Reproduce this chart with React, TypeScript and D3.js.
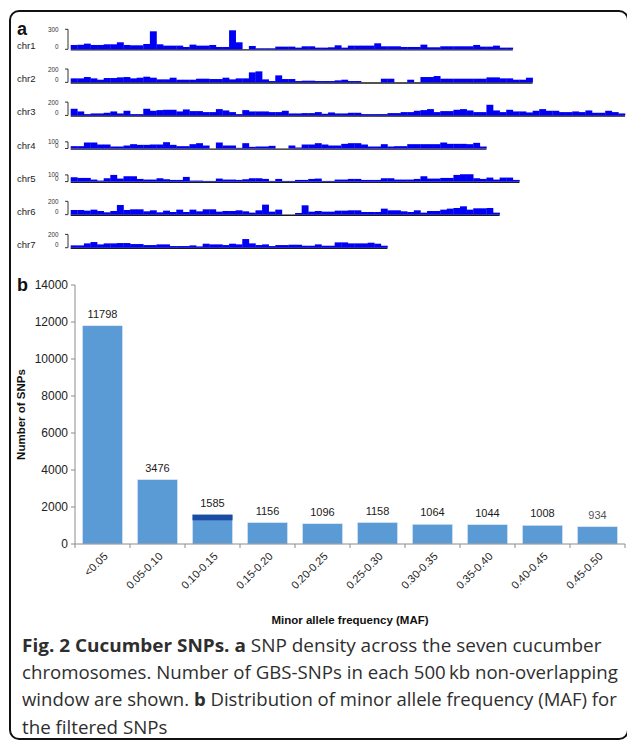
import React, { useLayoutEffect, useRef } from 'react';
import * as d3 from 'd3';

const W = 627;
const H = 740;

// ---------- Panel a: SNP counts per 500 kb window ----------
const chrNames = ['chr1', 'chr2', 'chr3', 'chr4', 'chr5', 'chr6', 'chr7'];
const chrTickMax = [300, 200, 200, 100, 100, 200, 200];

const chr1 = [65, 68, 85, 65, 65, 75, 75, 105, 65, 60, 60, 80, 270, 75, 55, 55, 55, 35, 70, 55, 55, 65, 35, 35, 285, 105, 0, 50, 15, 15, 15, 40, 40, 40, 25, 45, 45, 25, 25, 30, 60, 25, 55, 55, 55, 55, 90, 45, 45, 45, 35, 35, 35, 70, 30, 30, 45, 45, 45, 45, 45, 65, 40, 40, 55, 25, 25];
const chr2 = [60, 60, 80, 60, 40, 65, 65, 75, 80, 60, 70, 85, 70, 45, 45, 70, 40, 40, 40, 55, 55, 50, 50, 70, 45, 60, 60, 150, 165, 45, 20, 105, 50, 50, 20, 25, 25, 20, 20, 20, 30, 40, 20, 20, 0, 0, 0, 55, 55, 0, 0, 40, 0, 80, 80, 95, 55, 55, 55, 55, 55, 55, 55, 75, 75, 60, 60, 40, 40, 70];
const chr3 = [100, 60, 20, 30, 30, 40, 60, 30, 70, 20, 20, 100, 70, 80, 85, 85, 60, 90, 65, 65, 50, 50, 95, 75, 50, 20, 80, 60, 60, 60, 50, 50, 70, 30, 30, 35, 35, 50, 25, 45, 30, 30, 40, 40, 20, 20, 20, 20, 35, 35, 50, 50, 70, 80, 95, 50, 65, 65, 85, 95, 75, 50, 50, 160, 75, 50, 85, 60, 60, 45, 70, 95, 70, 70, 50, 50, 60, 50, 75, 40, 40, 70, 50, 30];
const chr4 = [35, 35, 90, 90, 60, 60, 30, 30, 45, 65, 55, 55, 60, 60, 95, 55, 35, 35, 65, 80, 45, 0, 90, 45, 45, 10, 80, 25, 30, 30, 40, 0, 0, 45, 15, 60, 60, 80, 60, 45, 45, 70, 80, 80, 60, 30, 30, 65, 30, 35, 35, 65, 65, 65, 65, 65, 90, 70, 70, 70, 65, 85, 30];
const chr5 = [65, 55, 55, 30, 15, 50, 100, 45, 80, 80, 40, 30, 30, 50, 35, 25, 25, 70, 15, 15, 10, 10, 45, 30, 30, 25, 35, 50, 50, 40, 10, 40, 10, 10, 25, 25, 40, 45, 10, 10, 30, 30, 40, 40, 25, 25, 25, 50, 50, 30, 30, 30, 40, 80, 45, 45, 55, 55, 100, 110, 110, 50, 40, 60, 30, 60, 60, 25];
const chr6 = [70, 70, 60, 75, 55, 35, 55, 145, 70, 80, 80, 50, 65, 35, 60, 40, 75, 40, 75, 50, 80, 80, 45, 55, 55, 65, 50, 30, 65, 150, 45, 75, 0, 0, 25, 140, 45, 55, 45, 45, 60, 60, 65, 65, 40, 40, 40, 90, 65, 65, 50, 40, 65, 30, 55, 55, 75, 90, 100, 125, 75, 95, 95, 100, 30];
const chr7 = [35, 35, 65, 85, 50, 65, 65, 70, 70, 55, 55, 40, 40, 50, 50, 25, 25, 25, 35, 20, 60, 50, 50, 40, 60, 50, 130, 65, 40, 50, 25, 40, 40, 45, 45, 30, 30, 50, 30, 30, 80, 80, 65, 65, 65, 75, 60, 30];
const chrCounts = [chr1, chr2, chr3, chr4, chr5, chr6, chr7];
const windowMb = 0.5;

// ---------- Panel b: MAF distribution ----------
const mafCategories = ['<0.05', '0.05-0.10', '0.10-0.15', '0.15-0.20', '0.20-0.25', '0.25-0.30', '0.30-0.35', '0.35-0.40', '0.40-0.45', '0.45-0.50'];
const snpCounts = [11798, 3476, 1585, 1156, 1096, 1158, 1064, 1044, 1008, 934];
const darkTopCounts = [0, 0, 305, 0, 0, 0, 0, 0, 0, 0];
const yTicksB = [0, 2000, 4000, 6000, 8000, 10000, 12000, 14000];

// ---------- Caption ----------
type Seg = { t: string; b?: boolean };
const captionLines: Seg[][] = [
  [{ t: 'Fig. 2 Cucumber SNPs.', b: true }, { t: ' ' }, { t: 'a', b: true }, { t: ' SNP density across the seven cucumber' }],
  [{ t: 'chromosomes. Number of GBS-SNPs in each 500\u2009kb non-overlapping' }],
  [{ t: 'window are shown. ' }, { t: 'b', b: true }, { t: ' Distribution of minor allele frequency (MAF) for' }],
  [{ t: 'the filtered SNPs' }],
];
const captionTargets = [580, 596, 595, 0];

const SANS = 'Liberation Sans, Arial, sans-serif';
const CAP_X = 22;
const CAP_Y0 = 652;
const CAP_DY = 27.2;

export default function App() {
  const capRefs = useRef<(SVGTextElement | null)[]>([]);

  useLayoutEffect(() => {
    const scales: number[] = [];
    capRefs.current.forEach((el, i) => {
      if (!el || !captionTargets[i]) return;
      const len = el.getComputedTextLength();
      const s = captionTargets[i] / len;
      scales.push(s);
      el.setAttribute('transform', `translate(${CAP_X},${CAP_Y0 + i * CAP_DY}) scale(${s},1)`);
    });
    const mean = scales.length ? d3.mean(scales)! : 1;
    capRefs.current.forEach((el, i) => {
      if (!el || captionTargets[i]) return;
      el.setAttribute('transform', `translate(${CAP_X},${CAP_Y0 + i * CAP_DY}) scale(${mean},1)`);
    });
  }, []);

  // Panel a scales
  const xA = d3.scaleLinear().domain([0, 42]).range([70.7, 625]);
  const hA = d3.scaleLinear().domain([0, 300]).range([0, 20]);
  const baseY = (i: number) => 49.3 + i * 33.07;
  const binW = xA(windowMb) - xA(0);

  // Panel b scales
  const xB = d3.scaleBand<string>().domain(mafCategories).range([75, 625]).paddingInner(15 / 55).paddingOuter(7.5 / 55);
  const yB = d3.scaleLinear().domain([0, 14000]).range([544, 285]);

  return (
    <svg width={W} height={H} viewBox={`0 0 ${W} ${H}`} style={{ position: 'absolute', left: 0, top: 0, background: '#fff' }}>
      <rect x={0} y={0} width={W} height={H} fill="#fff" />
      {/* frame */}
      <rect x={10} y={11} width={618} height={728} rx={9} fill="none" stroke="#111" strokeWidth={2} />

      {/* ---------- panel a ---------- */}
      <text x={17} y={35} fontFamily={SANS} fontWeight="bold" fontSize={18} fill="#111">a</text>
      {chrCounts.map((vals, ci) => {
        const by = baseY(ci);
        const top = by - hA(chrTickMax[ci]);
        return (
          <g key={chrNames[ci]}>
            <text x={17} y={by} fontFamily={SANS} fontSize={9.5} fill="#222">{chrNames[ci]}</text>
            <text x={58.5} y={top + 2.5} textAnchor="end" fontFamily={SANS} fontSize={6.3} fill="#333">{chrTickMax[ci]}</text>
            <text x={58.5} y={by - 0.5} textAnchor="end" fontFamily={SANS} fontSize={6.3} fill="#333">0</text>
            <path d={`M65,${top}H68V${by}H65`} fill="none" stroke="#333" strokeWidth={1} />
            <line x1={xA(0)} x2={xA(vals.length * windowMb)} y1={by + 0.6} y2={by + 0.6} stroke="#1a1a1a" strokeWidth={1.4} />
            {vals.map((v, i) =>
              v > 0 ? (
                <rect key={i} x={xA(i * windowMb)} y={by - hA(v)} width={binW + 0.3} height={hA(v)} fill="#0000f5" />
              ) : null
            )}
          </g>
        );
      })}

      {/* ---------- panel b ---------- */}
      <text x={17} y={290.5} fontFamily={SANS} fontWeight="bold" fontSize={18} fill="#111">b</text>
      {/* y axis */}
      <line x1={75} x2={75} y1={yB(14000)} y2={yB(0)} stroke="#8c8c8c" strokeWidth={1} />
      {yTicksB.map((t) => (
        <g key={t}>
          <line x1={71} x2={75} y1={yB(t)} y2={yB(t)} stroke="#8c8c8c" strokeWidth={1} />
          <text x={68} y={yB(t)} dy="0.35em" textAnchor="end" fontFamily={SANS} fontSize={12} fill="#222">{t}</text>
        </g>
      ))}
      <text transform={`translate(25,${(yB(0) + yB(14000)) / 2}) rotate(-90)`} textAnchor="middle" fontFamily={SANS} fontWeight="bold" fontSize={11.5} fill="#111">Number of SNPs</text>

      {/* bars */}
      {mafCategories.map((c, i) => {
        const x = xB(c)!;
        const w = xB.bandwidth();
        const total = snpCounts[i];
        const dark = darkTopCounts[i];
        return (
          <g key={c}>
            <rect x={x} y={yB(total)} width={w} height={yB(0) - yB(total)} fill="#5b9bd5" stroke="#dbe8f5" strokeWidth={0.6} />
            {dark > 0 && <rect x={x} y={yB(total)} width={w} height={yB(total - dark) - yB(total)} fill="#1a4ca3" />}
            <text x={x + w / 2} y={yB(total) - 8} textAnchor="middle" fontFamily={SANS} fontSize={11} fill={i === 9 ? '#555' : '#1a1a1a'}>{total}</text>
          </g>
        );
      })}

      {/* x axis */}
      <line x1={75} x2={625} y1={yB(0)} y2={yB(0)} stroke="#8c8c8c" strokeWidth={1} />
      {d3.range(mafCategories.length + 1).map((k) => {
        const x = 75 + k * xB.step();
        return <line key={k} x1={x} x2={x} y1={yB(0)} y2={yB(0) + 4} stroke="#8c8c8c" strokeWidth={1} />;
      })}
      {mafCategories.map((c) => {
        const cx = xB(c)! + xB.bandwidth() / 2;
        return (
          <text key={c} transform={`translate(${cx + 6},${yB(0) + 13}) rotate(-45)`} textAnchor="end" fontFamily={SANS} fontSize={11} fill="#222">{c}</text>
        );
      })}
      <text x={350} y={624} textAnchor="middle" fontFamily={SANS} fontWeight="bold" fontSize={11.5} fill="#111">Minor allele frequency (MAF)</text>

      {/* ---------- caption ---------- */}
      {captionLines.map((segs, li) => (
        <text
          key={li}
          ref={(el) => { capRefs.current[li] = el; }}
          x={0}
          y={0}
          transform={`translate(${CAP_X},${CAP_Y0 + li * CAP_DY})`}
          fontFamily="Open Sans, Noto Sans, sans-serif"
          fontSize={18}
          fill="#2e2e2e"
          xmlSpace="preserve"
          style={{ whiteSpace: 'pre' }}
        >
          {segs.map((s, si) => (
            <tspan key={si} fontWeight={s.b ? 'bold' : 'normal'}>{s.t}</tspan>
          ))}
        </text>
      ))}
    </svg>
  );
}
